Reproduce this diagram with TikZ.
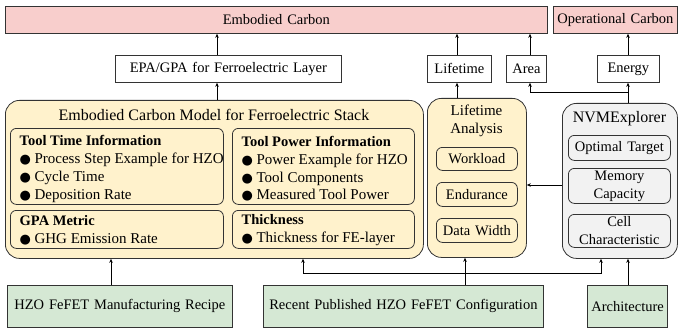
\documentclass[tikz,border=0pt]{standalone}
\usepackage{fontspec}
\setmainfont{Liberation Serif}
\newfontfamily\symf{DejaVu Sans}
\usetikzlibrary{arrows.meta}
\definecolor{pinkc}{HTML}{F8CECC}
\definecolor{yelc}{HTML}{FFF2CC}
\definecolor{grnc}{HTML}{D5E8D4}
\definecolor{gryc}{HTML}{F2F2F2}
\definecolor{edgec}{HTML}{333333}
\newcommand\bul{{\symf\fontsize{13}{13}\selectfont ●}\hspace{3.5pt}}
\newcommand\bx[7]{\node[#6, text width={#4pt-#2pt-8pt}, minimum height={#5pt-#3pt}] (#1) at (#2,#3) {#7};}
\newcommand\bxl[8]{\node[#6, minimum width={#4pt-#2pt}, minimum height={#5pt-#3pt}] (#1) at (#2,#3) {};
  \node[lefttext, yshift=#7] (#1-t) at ([xshift=9.5pt]#1.west) {#8};}
\tikzset{
  base/.style={draw=edgec, line width=0.8pt, inner xsep=4pt, inner ysep=0pt, anchor=north west, align=center, font=\fontsize{14.5}{18}\selectfont},
  pinkbox/.style={base, fill=pinkc},
  whitebox/.style={base, fill=white},
  greenbox/.style={base, fill=grnc},
  outerY/.style={base, fill=yelc, rounded corners=14pt},
  outerG/.style={base, fill=gryc, rounded corners=14pt},
  innerY/.style={base, fill=yelc, rounded corners=6pt},
  innerG/.style={base, fill=gryc, rounded corners=6pt},
  lefttext/.style={anchor=west, inner sep=0pt, align=left, font=\fontsize{15}{17.8}\selectfont},
  hd/.style={font=\fontsize{14.5}{17.8}\selectfont\bfseries},
  ttl/.style={inner sep=0pt, align=center, font=\fontsize{14.5}{18}\selectfont},
  arr/.style={line width=0.9pt, -{Stealth[length=4pt,width=3.5pt]}},
  dbl/.style={line width=0.9pt, {Stealth[length=4pt,width=3.5pt]}-{Stealth[length=4pt,width=3.5pt]}}
}
\newcommand\hdr[1]{{\fontsize{14.5}{17.8}\selectfont\bfseries #1}}
\begin{document}
\begin{tikzpicture}[x=1pt,y=-1pt]
\useasboundingbox (0,0) rectangle (678,329);
% top row
\bx{emb}{5}{6}{547}{33}{pinkbox}{Embodied Carbon}
\bx{op}{553}{6}{677}{33}{pinkbox}{Operational Carbon}
\bx{epa}{115}{55}{341}{82}{whitebox}{EPA/GPA for Ferroelectric Layer}
\bx{lt}{427}{55}{491}{82}{whitebox}{Lifetime}
\bx{area}{506}{55}{546}{82}{whitebox}{Area}
\bx{en}{597}{55}{659}{82}{whitebox}{Energy}
% model
\bx{model}{5}{100}{423}{258}{outerY}{}
\node[ttl, font=\fontsize{16}{18}\selectfont] (mtitle) at (214,115) {Embodied Carbon Model for Ferroelectric Stack};
\bxl{ttime}{10}{128}{223}{204}{innerY}{-2.5pt}{\hdr{Tool Time Information}\\\bul Process Step Example for HZO\\\bul Cycle Time\\\bul Deposition Rate}
\bxl{tpow}{232}{128}{414}{204}{innerY}{-2.5pt}{\hdr{Tool Power Information}\\\bul Power Example for HZO\\\bul Tool Components\\\bul Measured Tool Power}
\bxl{gpa}{10}{210}{223}{248}{innerY}{-0.5pt}{\hdr{GPA Metric}\\\bul GHG Emission Rate}
\bxl{thk}{232}{210}{414}{248}{innerY}{-0.5pt}{\hdr{Thickness}\\\bul Thickness for FE-layer}
% lifetime analysis
\bx{la}{427}{98}{526}{257}{outerY}{}
\node[ttl, font=\fontsize{15}{18}\selectfont] (latitle) at (476.5,121) {Lifetime\\Analysis};
\bx{wl}{436}{147}{517}{170}{innerY}{Workload}
\bx{endu}{436}{182}{517}{206}{innerY}{Endurance}
\bx{dw}{436}{218}{517}{242}{innerY}{Data Width}
% nvm explorer
\bx{nvm}{562}{103}{677}{258}{outerG}{}
\node[ttl, font=\fontsize{16}{18}\selectfont] (nvmtitle) at (619.5,119) {NVMExplorer};
\bx{opt}{568}{135}{670}{160}{innerG}{Optimal Target}
\bx{mem}{568}{168}{670}{203}{innerG}{Memory\\Capacity}
\bx{cell}{568}{214}{670}{247}{innerG}{Cell\\Characteristic}
% bottom
\bx{hzo}{7}{285}{232}{327}{greenbox}{HZO FeFET Manufacturing Recipe}
\bx{recent}{263}{285}{543}{327}{greenbox}{Recent Published HZO FeFET Configuration}
\bx{arch}{587}{285}{667}{327}{greenbox}{Architecture}
% coordinates for connector columns
\coordinate (xa) at (217,0);
\coordinate (xl) at (457,0);
\coordinate (xr) at (530,0);
\coordinate (xe) at (628,0);
\coordinate (xh) at (111,0);
\coordinate (xq) at (465,0);
\coordinate (br) at (628,92);
\coordinate (yn) at (0,185);
\coordinate (j1) at (303,273);
\coordinate (j2) at (601,273);
% connectors
\draw[arr] (xa |- model.north) -- (xa |- epa.south);
\draw[arr] (xa |- epa.north) -- (xa |- emb.south);
\draw[arr] (xl |- la.north) -- (xl |- lt.south);
\draw[arr] (xl |- lt.north) -- (xl |- emb.south);
\draw[arr] (xr |- area.north) -- (xr |- emb.south);
\draw[arr] (xe |- en.north) -- (xe |- op.south);
\draw[arr] (xe |- nvm.north) -- (xe |- en.south);
\draw[arr] (br) -| (xr |- area.south);
\draw[arr] (nvm.west |- yn) -- (la.east |- yn);
\draw[arr] (xh |- hzo.north) -- (xh |- model.south);
\draw[arr] (xq |- recent.north) -- (xq |- la.south);
\draw[dbl] (j1 |- model.south) -- (j1) -- (j2) -- (j2 |- nvm.south);
\draw[arr] (xe |- arch.north) -- (xe |- nvm.south);
\end{tikzpicture}
\end{document}
